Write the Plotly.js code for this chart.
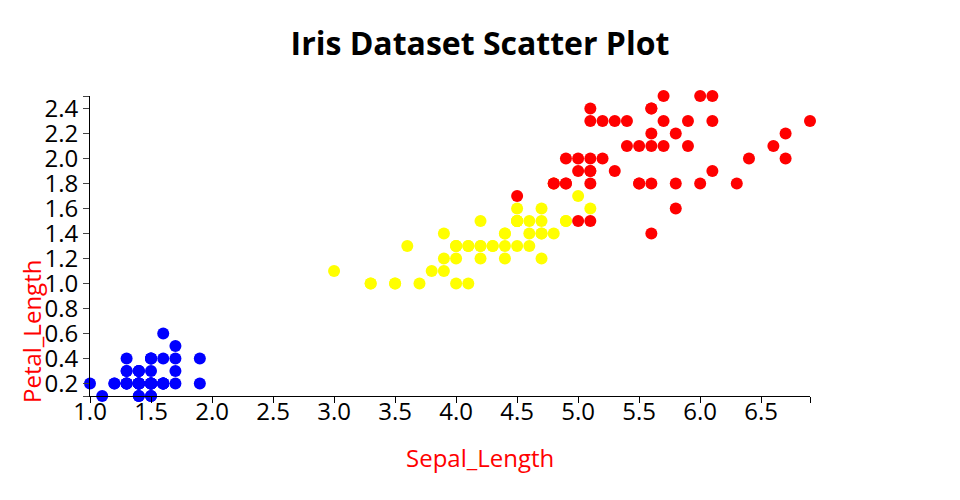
<!DOCTYPE html>
<html>
<head>
<meta charset="utf-8">
<script src="https://cdn.plot.ly/plotly-3.0.1.min.js"></script>
<style>html,body{margin:0;padding:0;background:#fff;}#chart{width:960px;height:500px;}</style>
</head>
<body>
<div id="chart"></div>
<script>
// Iris data: x = petal length, y = petal width (as plotted)
const setosaX = [1.4,1.4,1.3,1.5,1.4,1.7,1.4,1.5,1.4,1.5,1.5,1.6,1.4,1.1,1.2,1.5,1.3,1.4,1.7,1.5,1.7,1.5,1.0,1.7,1.9,1.6,1.6,1.5,1.4,1.6,1.6,1.5,1.5,1.4,1.5,1.2,1.3,1.4,1.3,1.5,1.3,1.3,1.3,1.6,1.9,1.4,1.6,1.4,1.5,1.4];
const setosaY = [0.2,0.2,0.2,0.2,0.2,0.4,0.3,0.2,0.2,0.1,0.2,0.2,0.1,0.1,0.2,0.4,0.4,0.3,0.3,0.3,0.2,0.4,0.2,0.5,0.2,0.2,0.4,0.2,0.2,0.2,0.2,0.4,0.1,0.2,0.2,0.2,0.2,0.1,0.2,0.2,0.3,0.3,0.2,0.6,0.4,0.3,0.2,0.2,0.2,0.2];
const versicolorX = [4.7,4.5,4.9,4.0,4.6,4.5,4.7,3.3,4.6,3.9,3.5,4.2,4.0,4.7,3.6,4.4,4.5,4.1,4.5,3.9,4.8,4.0,4.9,4.7,4.3,4.4,4.8,5.0,4.5,3.5,3.8,3.7,3.9,5.1,4.5,4.5,4.7,4.4,4.1,4.0,4.4,4.6,4.0,3.3,4.2,4.2,4.2,4.3,3.0,4.1];
const versicolorY = [1.4,1.5,1.5,1.3,1.5,1.3,1.6,1.0,1.3,1.4,1.0,1.5,1.0,1.4,1.3,1.4,1.5,1.0,1.5,1.1,1.8,1.3,1.5,1.2,1.3,1.4,1.4,1.7,1.5,1.0,1.1,1.0,1.2,1.6,1.5,1.6,1.5,1.3,1.3,1.3,1.2,1.4,1.2,1.0,1.3,1.2,1.3,1.3,1.1,1.3];
const virginicaX = [6.0,5.1,5.9,5.6,5.8,6.6,4.5,6.3,5.8,6.1,5.1,5.3,5.5,5.0,5.1,5.3,5.5,6.7,6.9,5.0,5.7,4.9,6.7,4.9,5.7,6.0,4.8,4.9,5.6,5.8,6.1,6.4,5.6,5.1,5.6,6.1,5.6,5.5,4.8,5.4,5.6,5.1,5.1,5.9,5.7,5.2,5.0,5.2,5.4,5.1];
const virginicaY = [2.5,1.9,2.1,1.8,2.2,2.1,1.7,1.8,1.8,2.5,2.0,1.9,2.1,2.0,2.4,2.3,1.8,2.2,2.3,1.5,2.3,2.0,2.0,1.8,2.1,1.8,1.8,1.8,2.1,1.6,1.9,2.0,2.2,1.5,1.4,2.3,2.4,1.8,1.8,2.1,2.4,2.3,1.9,2.3,2.5,2.3,1.9,2.0,2.3,1.8];

const xTickVals = [1.0,1.5,2.0,2.5,3.0,3.5,4.0,4.5,5.0,5.5,6.0,6.5,6.9];
const xTickText = ['1.0','1.5','2.0','2.5','3.0','3.5','4.0','4.5','5.0','5.5','6.0','6.5',''];
const yTickVals = [0.1,0.2,0.4,0.6,0.8,1.0,1.2,1.4,1.6,1.8,2.0,2.2,2.4,2.5];
const yTickText = ['','0.2','0.4','0.6','0.8','1.0','1.2','1.4','1.6','1.8','2.0','2.2','2.4',''];

const titleText = 'Iris Dataset Scatter Plot';
const xTitle = 'Sepal_Length';
const yTitle = 'Petal_Length';

function series(x, y, color, name) {
  return {x: x, y: y, type: 'scatter', mode: 'markers', name: name, cliponaxis: false,
    marker: {color: color, size: 12, line: {width: 0}}, hoverinfo: 'x+y'};
}

const data = [
  series(setosaX, setosaY, '#0000ff', 'setosa'),
  series(versicolorX, versicolorY, '#ffff00', 'versicolor'),
  series(virginicaX, virginicaY, '#ff0000', 'virginica')
];

const font = 'Open Sans, sans-serif';
const layout = {
  width: 960, height: 500,
  margin: {l: 90, r: 150, t: 96, b: 104, pad: 0},
  paper_bgcolor: '#fff', plot_bgcolor: '#fff',
  showlegend: false,
  font: {family: font, color: '#000', size: 24},
  title: {text: '<b>' + titleText + '</b>', font: {family: font, size: 32, color: '#000'},
    x: 0.5, xref: 'container', xanchor: 'center', y: 1 - 44/500, yref: 'container', yanchor: 'middle'},
  xaxis: {range: [1.0, 6.9], showgrid: false, zeroline: false, showline: true, linecolor: '#000', linewidth: 1,
    ticks: 'outside', ticklen: 6, tickcolor: '#000', tickwidth: 1, ticklabelstandoff: -12,
    tickmode: 'array', tickvals: xTickVals, ticktext: xTickText, tickfont: {family: font, size: 24, color: '#000'}},
  yaxis: {range: [0.1, 2.5], showgrid: false, zeroline: false, showline: true, linecolor: '#000', linewidth: 1,
    ticks: 'outside', ticklen: 6, tickcolor: '#444', tickwidth: 1,
    tickmode: 'array', tickvals: yTickVals, ticktext: yTickText, tickfont: {family: font, size: 24, color: '#000'}},
  annotations: [
    {text: xTitle, xref: 'paper', yref: 'paper', x: (480-90)/720, y: (396-457)/300, xanchor: 'center', yanchor: 'middle',
      showarrow: false, font: {family: font, size: 24, color: '#ff0000'}},
    {text: yTitle, xref: 'paper', yref: 'paper', x: (31-90)/720, y: (396-332)/300, xanchor: 'center', yanchor: 'middle',
      textangle: -90, showarrow: false, borderpad: 0, font: {family: font, size: 24, color: '#ff0000'}}
  ]
};

Plotly.newPlot('chart', data, layout, {displayModeBar: false, staticPlot: true});
</script>
</body>
</html>
